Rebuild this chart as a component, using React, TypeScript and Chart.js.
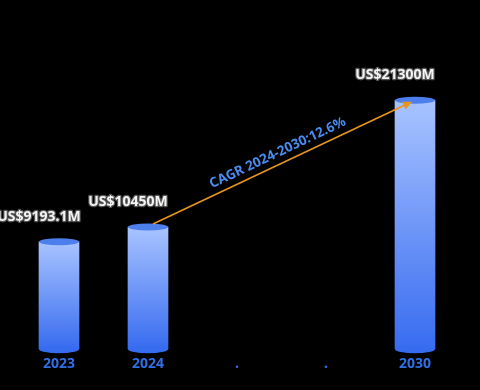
import React, { useEffect, useRef } from "react";
import { Chart, registerables } from "chart.js";

Chart.register(...registerables);

const categories = ["2023", "2024", ".", ".", "2030"];
const values: (number | null)[] = [9193.1, 10450, null, null, 21300];
const valueLabels = ["US$9193.1M", "US$10450M", "", "", "US$21300M"];
const cagrText = "CAGR 2024-2030:12.6%";
const cagrFromIndex = 1;
const cagrToIndex = 4;

const FONT = "'Noto Sans', 'DejaVu Sans', sans-serif";
const TOP_COLOR = "#a8c3ff";
const BOTTOM_COLOR = "#386cf0";
const CAP_COLOR = "#4d7fec";

const cylinderPlugin = {
  id: "cylinder",
  afterDatasetsDraw(chart: any) {
    const ctx = chart.ctx;
    const meta = chart.getDatasetMeta(0);
    ctx.save();
    meta.data.forEach((bar: any, i: number) => {
      if (values[i] == null) return;
      const { x, y, base, width } = bar.getProps(["x", "y", "base", "width"], true);
      const rx = width / 2;
      // bottom ellipse
      ctx.beginPath();
      ctx.ellipse(x, base, rx, 4, 0, 0, Math.PI * 2);
      ctx.fillStyle = BOTTOM_COLOR;
      ctx.fill();
      // top cap
      ctx.beginPath();
      ctx.ellipse(x, y, rx, 3.5, 0, 0, Math.PI * 2);
      ctx.fillStyle = CAP_COLOR;
      ctx.fill();
      // label
      const label = valueLabels[i];
      if (label) {
        ctx.font = `bold 14px ${FONT}`;
        ctx.textAlign = "center";
        ctx.textBaseline = "middle";
        ctx.lineWidth = 2.5;
        ctx.strokeStyle = "#555555";
        ctx.lineJoin = "round";
        ctx.strokeText(label, x - rx, y - 25);
        ctx.fillStyle = "#f4f4f4";
        ctx.fillText(label, x - rx, y - 25);
      }
    });

    // CAGR arrow
    const a: any = meta.data[cagrFromIndex];
    const b: any = meta.data[cagrToIndex];
    const x1 = a.x + 5, y1 = a.y - 3;
    const x2 = b.x - 3, y2 = b.y + 1.5;
    const ang = Math.atan2(y2 - y1, x2 - x1);
    ctx.strokeStyle = "#e8951c";
    ctx.fillStyle = "#e8951c";
    ctx.lineWidth = 1.6;
    ctx.beginPath();
    ctx.moveTo(x1, y1);
    ctx.lineTo(x2 - Math.cos(ang) * 6, y2 - Math.sin(ang) * 6);
    ctx.stroke();
    ctx.beginPath();
    ctx.moveTo(x2, y2);
    ctx.lineTo(x2 - Math.cos(ang - 0.45) * 10, y2 - Math.sin(ang - 0.45) * 10);
    ctx.lineTo(x2 - Math.cos(ang + 0.45) * 10, y2 - Math.sin(ang + 0.45) * 10);
    ctx.closePath();
    ctx.fill();

    const mx = (x1 + x2) / 2, my = (y1 + y2) / 2;
    const nx = Math.sin(ang), ny = -Math.cos(ang);
    ctx.translate(mx + nx * 11, my + ny * 11);
    ctx.rotate(ang);
    ctx.font = `bold 13.5px ${FONT}`;
    ctx.textAlign = "center";
    ctx.textBaseline = "middle";
    ctx.fillStyle = "#4a8bf0";
    ctx.fillText(cagrText, 0, 0);
    ctx.restore();
  },
};

export default function App() {
  const ref = useRef<HTMLCanvasElement | null>(null);
  useEffect(() => {
    if (!ref.current) return;
    const chart = new Chart(ref.current, {
      type: "bar",
      data: {
        labels: categories,
        datasets: [
          {
            data: values,
            barThickness: 40,
            borderWidth: 0,
            backgroundColor: (c: any) => {
              const chartObj = c.chart;
              const area = chartObj.chartArea;
              const v = c.raw;
              if (!area || v == null) return BOTTOM_COLOR;
              const ys = chartObj.scales.y;
              const top = ys.getPixelForValue(v);
              const bottom = ys.getPixelForValue(0);
              const g = chartObj.ctx.createLinearGradient(0, top, 0, bottom);
              g.addColorStop(0, TOP_COLOR);
              g.addColorStop(1, BOTTOM_COLOR);
              return g;
            },
          },
        ],
      },
      options: {
        animation: false,
        responsive: false,
        maintainAspectRatio: false,
        layout: { padding: { top: 57, left: 14.5, right: 20.5, bottom: 20 } },
        plugins: { legend: { display: false }, tooltip: { enabled: false } },
        scales: {
          x: {
            grid: { display: false },
            border: { display: false },
            ticks: {
              color: "#2f6fe8",
              font: { family: FONT, size: 14, weight: "bold" },
              padding: -2,
              maxRotation: 0,
              autoSkip: false,
            },
          },
          y: {
            display: false,
            min: 0,
            max: 25000,
          },
        },
      },
      plugins: [cylinderPlugin],
    });
    return () => chart.destroy();
  }, []);
  return (
    <div
      style={{
        position: "fixed",
        left: 0,
        top: 0,
        width: 480,
        height: 390,
        background: "#000",
      }}
    >
      <canvas ref={ref} width={480} height={390} style={{ display: "block" }} />
    </div>
  );
}
